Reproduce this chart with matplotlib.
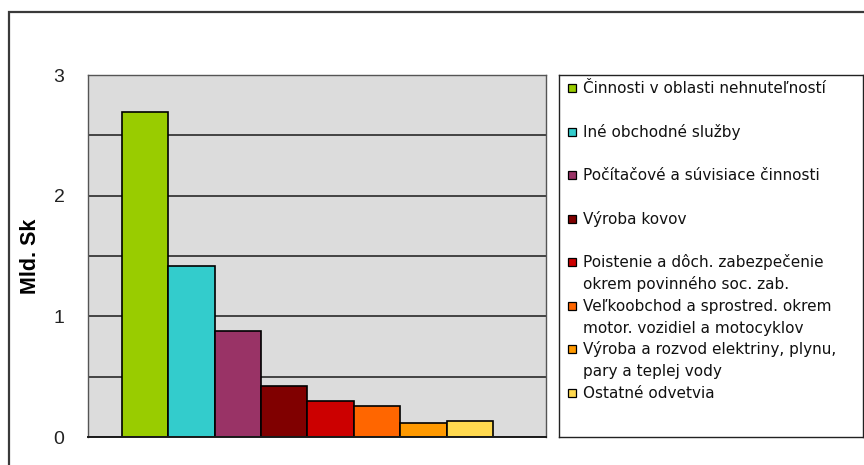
import matplotlib.pyplot as plt
from matplotlib.patches import Rectangle

# Data (billions of Sk)
sectors = [
    'Činnosti v oblasti nehnuteľností',
    'Iné obchodné služby',
    'Počítačové a súvisiace činnosti',
    'Výroba kovov',
    'Poistenie a dôch. zabezpečenie\nokrem povinného soc. zab.',
    'Veľkoobchod a sprostred. okrem\nmotor. vozidiel a motocyklov',
    'Výroba a rozvod elektriny, plynu,\npary a teplej vody',
    'Ostatné odvetvia',
]
values = [2.69, 1.42, 0.88, 0.42, 0.30, 0.26, 0.12, 0.135]
colors = ['#99CC00', '#33CCCC', '#993366', '#800000',
          '#CC0000', '#FF6600', '#FF9900', '#FFD94F']
y_ticks = [0, 1, 2, 3]

W, H = 864, 465
fig = plt.figure(figsize=(W / 100, H / 100), dpi=100)

# outer chart frame (runs off the right and bottom edges)
fig.patches.append(Rectangle((9 / W, -0.1), 1.0, 1 - 12 / H + 0.1,
                             transform=fig.transFigure, fill=False,
                             edgecolor='#3a3a3a', linewidth=1.6))

# plot area
ax = fig.add_axes([88 / W, 28 / H, (546 - 88) / W, (437 - 75) / H])
ax.set_facecolor('#DCDCDC')
x = list(range(len(values)))
ax.bar(x, values, width=1.0, color=colors, edgecolor='black',
       linewidth=1.2, zorder=3)
ax.set_xlim(-1.23, 8.64)
ax.set_ylim(0, 3)
ax.set_yticks(y_ticks)
ax.set_yticklabels([str(t) for t in y_ticks], fontsize=14,
                   family='Liberation Sans', color='#222222')
ax.set_yticks([0.5, 1.5, 2.5], minor=True)
ax.tick_params(axis='y', which='both', length=0, pad=17)
ax.set_xticks([])
ax.grid(axis='y', which='both', color='#1a1a1a', linewidth=1.1, zorder=1)
for s in ['top', 'right', 'left']:
    ax.spines[s].set_color('#555555')
    ax.spines[s].set_linewidth(1.0)
ax.spines['bottom'].set_color('#1a1a1a')
ax.spines['bottom'].set_linewidth(1.4)
ax.spines['bottom'].set_zorder(4)
ax.set_ylabel('Mld. Sk', fontsize=15.5, fontweight='bold',
              family='Liberation Sans', labelpad=9)

# legend box drawn in pixel units
lg = fig.add_axes([559 / W, 28 / H, (863 - 559) / W, (437 - 75) / H])
lg.set_xlim(0, 304)
lg.set_ylim(362, 0)
lg.set_xticks([])
lg.set_yticks([])
for s in lg.spines.values():
    s.set_color('#222222')
    s.set_linewidth(1.0)

first_y, step = 13.0, (318.0 - 13.0) / 7
line_gap = step / 2
for i, (name, col) in enumerate(zip(sectors, colors)):
    y0 = first_y + i * step
    lg.add_patch(Rectangle((9, y0 - 4), 8, 8, facecolor=col,
                           edgecolor='black', linewidth=0.9))
    for k, line in enumerate(name.split('\n')):
        lg.text(24, y0 + k * line_gap + 5, line, fontsize=11,
                family='DejaVu Sans', va='baseline', ha='left',
                color='#111111')

fig.savefig('out.png', dpi=100)
